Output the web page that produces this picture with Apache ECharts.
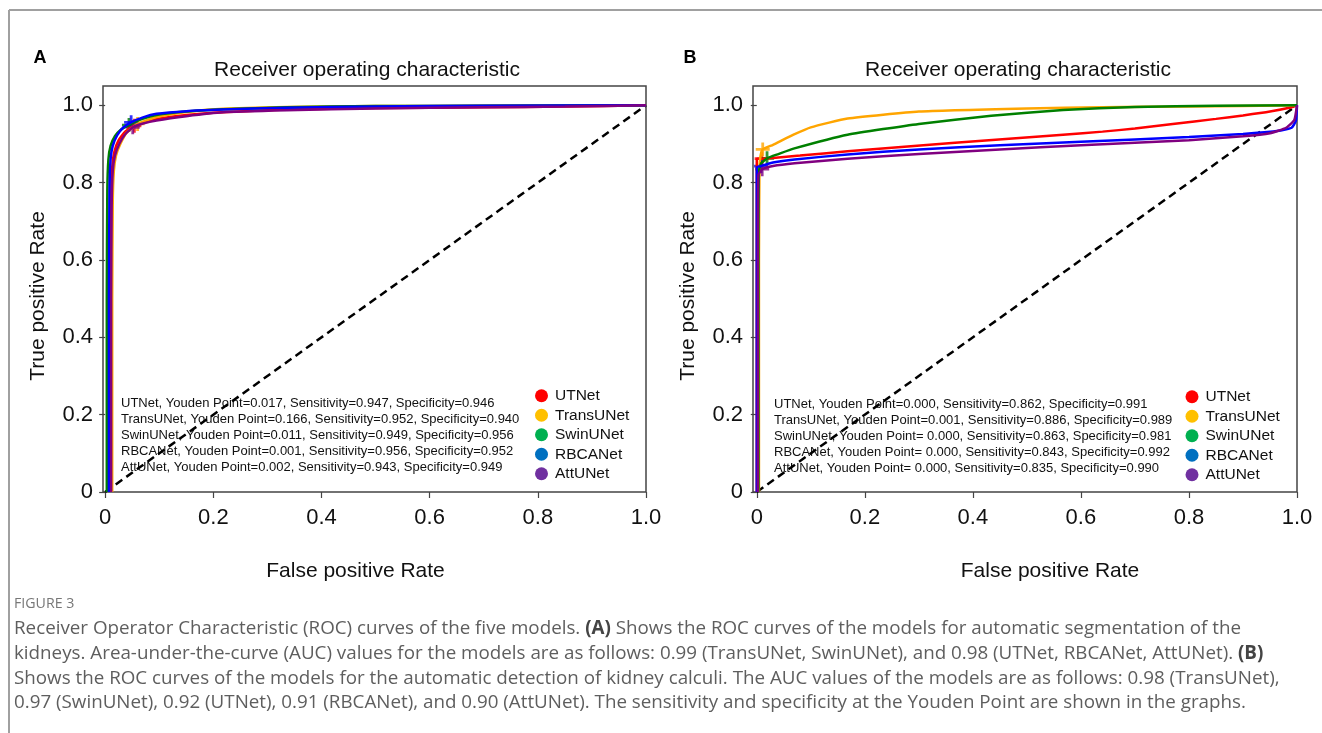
<!DOCTYPE html>
<html>
<head>
<meta charset="utf-8">
<script src="https://cdn.jsdelivr.net/npm/echarts@6.0.0/dist/echarts.min.js"></script>
<style>
html,body{margin:0;padding:0;background:#fff;}
#chart{width:1322px;height:733px;}
</style>
</head>
<body>
<div id="chart"></div>
<script>
// ---------------- DATA ----------------
const models = ['UTNet', 'TransUNet', 'SwinUNet', 'RBCANet', 'AttUNet'];
const tickValues = [0, 0.2, 0.4, 0.6, 0.8, 1.0];

// Panel A: ROC curves for kidney segmentation, [FPR, TPR]
const rocA_UTNet = [[0.010,0],[0.010,0.5],[0.011,0.75],[0.013,0.84],[0.017,0.88],[0.025,0.91],[0.037,0.932],[0.054,0.947],[0.075,0.958],[0.095,0.965],[0.15,0.975],[0.218,0.982],[0.336,0.989],[0.5,0.993],[0.7,0.995],[0.85,0.997],[1,1]];
const rocA_TransUNet = [[0.013,0],[0.013,0.5],[0.014,0.75],[0.016,0.83],[0.02,0.87],[0.028,0.9],[0.04,0.93],[0.06,0.952],[0.095,0.97],[0.15,0.983],[0.218,0.991],[0.336,0.996],[0.5,0.998],[0.7,0.999],[1,1]];
const rocA_SwinUNet = [[0.003,0],[0.003,0.5],[0.004,0.78],[0.006,0.86],[0.01,0.895],[0.018,0.92],[0.03,0.938],[0.044,0.949],[0.065,0.963],[0.095,0.975],[0.15,0.984],[0.218,0.99],[0.336,0.995],[0.5,0.998],[0.7,0.999],[1,1]];
const rocA_RBCANet = [[0.007,0],[0.007,0.5],[0.008,0.78],[0.01,0.86],[0.014,0.895],[0.022,0.922],[0.033,0.942],[0.048,0.956],[0.07,0.969],[0.095,0.978],[0.15,0.985],[0.218,0.989],[0.336,0.994],[0.5,0.997],[0.7,0.999],[1,1]];
const rocA_AttUNet = [[0.011,0],[0.011,0.5],[0.012,0.74],[0.014,0.83],[0.018,0.87],[0.026,0.9],[0.037,0.925],[0.051,0.943],[0.07,0.953],[0.095,0.961],[0.15,0.972],[0.218,0.982],[0.336,0.987],[0.5,0.992],[0.7,0.995],[0.85,0.997],[1,1]];

// Panel B: ROC curves for kidney calculi detection, [FPR, TPR]
const rocB_UTNet = [[0,0],[0,0.862],[0.009,0.862],[0.03,0.864],[0.08,0.87],[0.168,0.881],[0.367,0.903],[0.567,0.924],[0.64,0.932],[0.7,0.94],[0.77,0.952],[0.85,0.965],[0.9,0.974],[0.95,0.984],[0.99,0.995],[1,1]];
const rocB_TransUNet = [[0.004,0],[0.004,0.6],[0.005,0.84],[0.007,0.87],[0.011,0.886],[0.03,0.898],[0.068,0.924],[0.1,0.943],[0.168,0.966],[0.3,0.984],[0.5,0.992],[0.64,0.995],[0.8,0.997],[1,1]];
const rocB_SwinUNet = [[0.003,0],[0.003,0.6],[0.004,0.83],[0.008,0.85],[0.019,0.863],[0.04,0.874],[0.068,0.888],[0.168,0.924],[0.3,0.952],[0.434,0.973],[0.567,0.988],[0.7,0.996],[0.85,0.999],[1,1]];
const rocB_RBCANet = [[0,0],[0,0.84],[0.008,0.843],[0.03,0.852],[0.07,0.86],[0.168,0.873],[0.3,0.886],[0.45,0.897],[0.6,0.906],[0.8,0.918],[0.9,0.926],[0.97,0.935],[0.99,0.942],[0.998,0.96],[1,1]];
const rocB_AttUNet = [[0.002,0],[0.002,0.6],[0.003,0.82],[0.01,0.835],[0.03,0.843],[0.07,0.85],[0.168,0.862],[0.3,0.874],[0.45,0.886],[0.6,0.897],[0.8,0.91],[0.9,0.92],[0.95,0.928],[0.98,0.942],[0.995,0.962],[1,1]];

const diagonal = [[0,0],[1,1]];

// Youden point statistics
const youdenA = ['0.017', '0.166', '0.011', '0.001', '0.002'];
const sensA = [0.947, 0.952, 0.949, 0.956, 0.943];
const specA = [0.946, 0.940, 0.956, 0.952, 0.949];
const youdenB = ['0.000', '0.001', ' 0.000', ' 0.000', ' 0.000'];
const sensB = [0.862, 0.886, 0.863, 0.843, 0.835];
const specB = [0.991, 0.989, 0.981, 0.992, 0.990];

const panelTitle = 'Receiver operating characteristic';
const xName = 'False positive Rate';
const yName = 'True positive Rate';

const figureLabel = 'FIGURE 3';
const captionLines = [
  'Receiver Operator Characteristic (ROC) curves of the five models. {b|(A)} Shows the ROC curves of the models for automatic segmentation of the',
  'kidneys. Area-under-the-curve (AUC) values for the models are as follows: 0.99 (TransUNet, SwinUNet), and 0.98 (UTNet, RBCANet, AttUNet). {b|(B)}',
  'Shows the ROC curves of the models for the automatic detection of kidney calculi. The AUC values of the models are as follows: 0.98 (TransUNet),',
  '0.97 (SwinUNet), 0.92 (UTNet), 0.91 (RBCANet), and 0.90 (AttUNet). The sensitivity and specificity at the Youden Point are shown in the graphs.'
];

// ---------------- STYLE ----------------
const lineColors = ['#ff0000', '#ffa500', '#008000', '#0000ff', '#800080'];
const legendColors = ['#ff0000', '#ffc000', '#00b050', '#0070c0', '#7030a0'];
const FONT = "'Liberation Sans', Arial, sans-serif";
const CAPFONT = "'Open Sans', sans-serif";

const rocA = [rocA_UTNet, rocA_TransUNet, rocA_SwinUNet, rocA_RBCANet, rocA_AttUNet];
const rocB = [rocB_UTNet, rocB_TransUNet, rocB_SwinUNet, rocB_RBCANet, rocB_AttUNet];

const grids = [
  {left: 103, top: 86, width: 543, height: 406},
  {left: 753, top: 86, width: 544, height: 406}
];
const xMins = [-0.004, -0.007];
const xNamePad = [[0, 38, 0, 0], [0, 0, 0, 50]];

function fmt(v) { return v === 0 ? '0' : v.toFixed(1); }

const xAxes = grids.map((g, i) => ({
  type: 'value', gridIndex: i, min: xMins[i], max: 1.0,
  axisLine: {show: false},
  axisTick: {show: true, length: 6, lineStyle: {color: '#444', width: 1.2}, customValues: tickValues},
  axisLabel: {customValues: tickValues, formatter: fmt, fontSize: 22, color: '#111', fontFamily: FONT, margin: 15},
  splitLine: {show: false},
  name: xName, nameLocation: 'middle', nameGap: 69,
  nameTextStyle: {fontSize: 21, color: '#111', fontFamily: FONT, padding: xNamePad[i]}
}));
const yAxes = grids.map((g, i) => ({
  type: 'value', gridIndex: i, min: 0, max: 1.05,
  axisLine: {show: false},
  axisTick: {show: true, length: 6, lineStyle: {color: '#444', width: 1.2}, customValues: tickValues},
  axisLabel: {customValues: tickValues, formatter: fmt, fontSize: 22, color: '#111', fontFamily: FONT, margin: 10},
  splitLine: {show: false},
  name: yName, nameLocation: 'middle', nameGap: 54,
  nameTextStyle: {fontSize: 21, color: '#111', fontFamily: FONT, padding: [0, 14, 0, 0]}
}));

const series = [];
[rocA, rocB].forEach((curves, p) => {
  series.push({
    type: 'line', name: 'chance', xAxisIndex: p, yAxisIndex: p, data: diagonal,
    showSymbol: false, silent: true,
    lineStyle: {color: '#000', width: 2.5, type: [8, 5]}
  });
  curves.forEach((c, k) => {
    series.push({
      type: 'line', name: models[k], xAxisIndex: p, yAxisIndex: p, data: c,
      showSymbol: false, smooth: 0.15,
      lineStyle: {color: lineColors[k], width: 2.5},
      itemStyle: {color: lineColors[k]}
    });
  });
  const sens = p === 0 ? sensA : sensB;
  const spec = p === 0 ? specA : specB;
  models.forEach((m, k) => {
    series.push({
      type: 'scatter', name: m, xAxisIndex: p, yAxisIndex: p,
      data: [[1 - spec[k], sens[k]]],
      symbol: 'path://M4,0h2v10h-2z M0,4h10v2h-10z', symbolSize: 14,
      itemStyle: {color: lineColors[k]}
    });
  });
});

const legends = [{left: 535, top: 386}, {left: 1185.5, top: 387}].map(pos => ({
  left: pos.left, top: pos.top, orient: 'vertical', padding: 0,
  itemWidth: 13, itemHeight: 13, itemGap: 0, icon: 'circle',
  textStyle: {fontSize: 15.5, color: '#111', fontFamily: FONT, lineHeight: 19.5, padding: [0, 0, 0, 2]},
  data: models.map((m, k) => ({name: m, icon: 'circle', itemStyle: {color: legendColors[k]}}))
}));

const graphic = [];
// outer figure frame
graphic.push({type: 'line', shape: {x1: 9, y1: 10, x2: 1322, y2: 10}, style: {stroke: '#a0a0a0', lineWidth: 2}, silent: true});
graphic.push({type: 'line', shape: {x1: 9, y1: 10, x2: 9, y2: 733}, style: {stroke: '#a0a0a0', lineWidth: 2}, silent: true});
// panel letters and titles
[['A', 40, 367], ['B', 690, 1018]].forEach(([letter, lx, tx]) => {
  graphic.push({type: 'text', x: lx, y: 58, style: {text: letter, fontSize: 18, fontWeight: 'bold', fontFamily: FONT, fill: '#000', textAlign: 'center', textVerticalAlign: 'middle'}});
  graphic.push({type: 'text', x: tx, y: 70, style: {text: panelTitle, fontSize: 21, fontFamily: FONT, fill: '#111', textAlign: 'center', textVerticalAlign: 'middle'}});
});
// Youden statistics text blocks
[[youdenA, sensA, specA, 121, 403], [youdenB, sensB, specB, 774, 404]].forEach(([yp, se, sp, x0, y0]) => {
  models.forEach((m, k) => {
    graphic.push({type: 'text', x: x0, y: y0 + k * 16, style: {
      text: m + ', Youden Point=' + yp[k] + ', Sensitivity=' + se[k].toFixed(3) + ', Specificity=' + sp[k].toFixed(3),
      fontSize: 13, fontFamily: FONT, fill: '#111', textAlign: 'left', textVerticalAlign: 'middle'}});
  });
});
// caption
graphic.push({type: 'text', x: 14, y: 604, style: {text: figureLabel, fontSize: 14.2, fontFamily: CAPFONT, fill: '#777', textAlign: 'left', textVerticalAlign: 'middle'}});
captionLines.forEach((t, i) => {
  graphic.push({type: 'text', x: 14, y: 629 + i * 24.6, style: {
    text: t, fontSize: 18.8, fontFamily: CAPFONT, fill: '#5e5e5e', textAlign: 'left', textVerticalAlign: 'middle',
    rich: {b: {fontSize: 18.8, fontFamily: CAPFONT, fontWeight: 'bold', fill: '#444', textVerticalAlign: 'middle'}}
  }});
});

const chart = echarts.init(document.getElementById('chart'), null, {renderer: 'canvas'});
chart.setOption({
  backgroundColor: '#fff',
  animation: false,
  grid: grids.map(g => Object.assign({show: true, borderColor: '#444', borderWidth: 1.5, backgroundColor: 'transparent', containLabel: false}, g)),
  xAxis: xAxes,
  yAxis: yAxes,
  legend: legends,
  series: series,
  graphic: graphic
});
</script>
</body>
</html>
